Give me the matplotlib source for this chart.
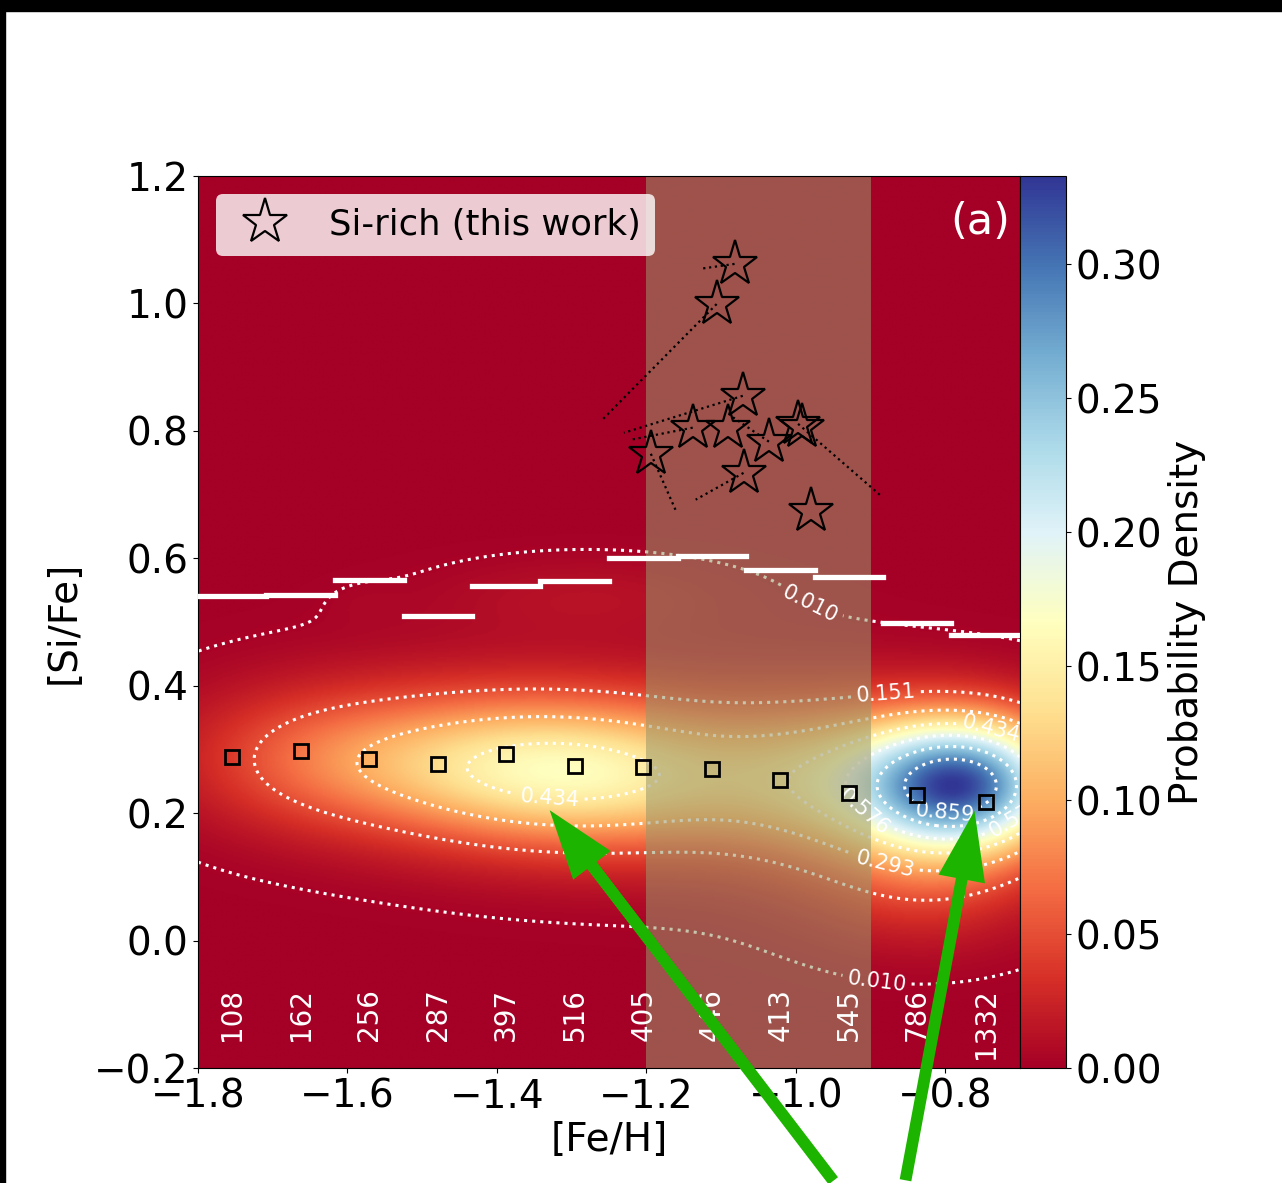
"""[Si/Fe] vs [Fe/H] density map with Si-rich stars."""
import matplotlib
matplotlib.use('Agg')
import matplotlib.pyplot as plt
from matplotlib.patches import Rectangle, FancyArrowPatch
import numpy as np

plt.rcParams.update({
    'font.family': 'DejaVu Sans',
    'font.size': 28,
    'axes.linewidth': 0.8,
})

# Gaussian components describing the background density
comp_feh = [-0.775, -0.83, -1.32, -0.95, -1.10, -1.28, -1.58, -1.65]
comp_sife = [0.245, 0.10, 0.265, 0.25, 0.27, 0.54, 0.53, 0.285]
comp_sfeh = [0.095, 0.11, 0.20, 0.11, 0.36, 0.15, 0.04, 0.12]
comp_ssife = [0.072, 0.075, 0.08, 0.085, 0.12, 0.045, 0.025, 0.075]
comp_tilt = [0.0, 0.0, -0.04, 0.0, -0.06, 0.0, 0.0, 0.0]
comp_amp = [0.87, 0.11, 0.46, 0.24, 0.05, 0.035, 0.008, 0.10]
peak_density = 0.333

# running medians (squares) and upper bounds (white bars) per [Fe/H] bin
bin_edges = np.linspace(-1.8, -0.7, 13)
median_sife = [0.288, 0.298, 0.285, 0.277, 0.293, 0.274, 0.273, 0.270, 0.252, 0.232, 0.229, 0.217]
upper_sife = [0.541, 0.543, 0.566, 0.510, 0.556, 0.565, 0.601, 0.603, 0.582, 0.570, 0.498, 0.479]
bin_counts = ['108', '162', '256', '287', '397', '516', '405', '446', '413', '545', '786', '1332']

# Si-rich stars and the ends of their dotted offset lines
star_feh = [-1.082, -1.106, -1.071, -1.138, -1.091, -1.036, -0.997, -0.992, -1.194, -1.070, -0.980]
star_sife = [1.062, 0.999, 0.855, 0.805, 0.805, 0.783, 0.811, 0.806, 0.764, 0.734, 0.674]
end_feh = [-1.124, -1.261, -1.230, -1.221, np.nan, -1.085, -0.884, np.nan, -1.161, -1.134, np.nan]
end_sife = [1.055, 0.815, 0.797, 0.786, np.nan, 0.822, 0.696, np.nan, 0.676, 0.692, np.nan]

band = (-1.2, -0.9)

xg = np.linspace(-1.8, -0.7, 440)
yg = np.linspace(-0.2, 1.2, 560)
X, Y = np.meshgrid(xg, yg)
N = np.zeros_like(X)
for x0, y0, sx, sy, t, a in zip(comp_feh, comp_sife, comp_sfeh, comp_ssife, comp_tilt, comp_amp):
    yc = y0 + t * (X - x0)
    N += a * np.exp(-0.5 * (((X - x0) / sx) ** 2 + ((Y - yc) / sy) ** 2))
N /= N.max()
dens = N * peak_density

fig = plt.figure(figsize=(12.82, 11.83), dpi=100)
ax = fig.add_axes([198 / 1282, 1 - 1068 / 1183, 822 / 1282, 892 / 1183])
cax = fig.add_axes([1020 / 1282, 1 - 1068 / 1183, 46 / 1282, 892 / 1183])

im = ax.imshow(dens, origin='lower', extent=(-1.8, -0.7, -0.2, 1.2), aspect='auto',
               cmap='RdYlBu', vmin=0, vmax=peak_density, interpolation='bilinear', zorder=0)
levels = np.linspace(0.01, 1.0, 8)[:-1]
cs = ax.contour(X, Y, N, levels=levels, colors='white', linestyles=':', linewidths=2.2, zorder=1)
ax.clabel(cs, fmt='%.3f', fontsize=15, inline=True,
          manual=[(-0.98, 0.53), (-0.89, -0.05), (-0.88, 0.39), (-0.88, 0.12),
                  (-1.33, 0.21), (-0.74, 0.33), (-0.90, 0.215), (-0.71, 0.2), (-0.80, 0.205)])

ax.axvspan(band[0], band[1], color='#99976a', alpha=0.55, lw=0, zorder=2)

centers = 0.5 * (bin_edges[:-1] + bin_edges[1:])
ax.hlines(upper_sife, bin_edges[:-1], bin_edges[1:], colors='white', lw=3.8,
          capstyle='projecting', zorder=3)
ax.plot(centers, median_sife, 's', ms=9.5, mfc='none', mec='black', mew=2, zorder=4)
for xc, c in zip(centers, bin_counts):
    ax.text(xc, -0.075, c, rotation=90, ha='center', va='top', color='white', fontsize=20, zorder=4)

for x0, y0, x1, y1 in zip(star_feh, star_sife, end_feh, end_sife):
    ax.plot([x0, x1], [y0, y1], ':', color='black', lw=1.6, zorder=4)
ax.plot(star_feh, star_sife, '*', ms=34, mfc='none', mec='black', mew=1.6, ls='none',
        label='Si-rich (this work)', zorder=5)

ax.text(0.988, 0.972, '(a)', transform=ax.transAxes, ha='right', va='top', color='white', fontsize=31)

ax.set_xlim(-1.8, -0.7)
ax.set_ylim(-0.2, 1.2)
ax.set_xticks([-1.8, -1.6, -1.4, -1.2, -1.0, -0.8])
ax.set_yticks([-0.2, 0.0, 0.2, 0.4, 0.6, 0.8, 1.0, 1.2])
ax.tick_params(labelsize=28)
ax.set_xlabel('[Fe/H]', fontsize=28, labelpad=4)
ax.set_ylabel('[Si/Fe]', fontsize=28, labelpad=8)
leg = ax.legend(loc='upper left', fontsize=25.5, framealpha=0.8, facecolor='white',
                edgecolor='none', borderaxespad=0.5)

cb = fig.colorbar(im, cax=cax)
cb.set_ticks([0.0, 0.05, 0.10, 0.15, 0.20, 0.25, 0.30])
cb.set_ticklabels(['0.00', '0.05', '0.10', '0.15', '0.20', '0.25', '0.30'])
cb.ax.tick_params(labelsize=28)
cb.set_label('Probability Density', fontsize=28, labelpad=4)

# screenshot border and the green pointer arrows
fig.patches.append(Rectangle((0, 1 - 11 / 1183), 1, 11 / 1183, transform=fig.transFigure,
                             color='black', zorder=10))
fig.patches.append(Rectangle((0, 0), 5 / 1282, 1, transform=fig.transFigure,
                             color='black', zorder=10))
for (xs, ys), (xt, yt) in [((835, 0), (548, 375)), ((905, 0), (975, 375))]:
    arr = FancyArrowPatch((xs / 1282, ys / 1183), (xt / 1282, yt / 1183), transform=fig.transFigure,
                          arrowstyle='simple,head_width=34,head_length=50,tail_width=8.5',
                          mutation_scale=1, color='#1db400', lw=0, zorder=11)
    fig.patches.append(arr)

fig.savefig('out.png', dpi=100)
